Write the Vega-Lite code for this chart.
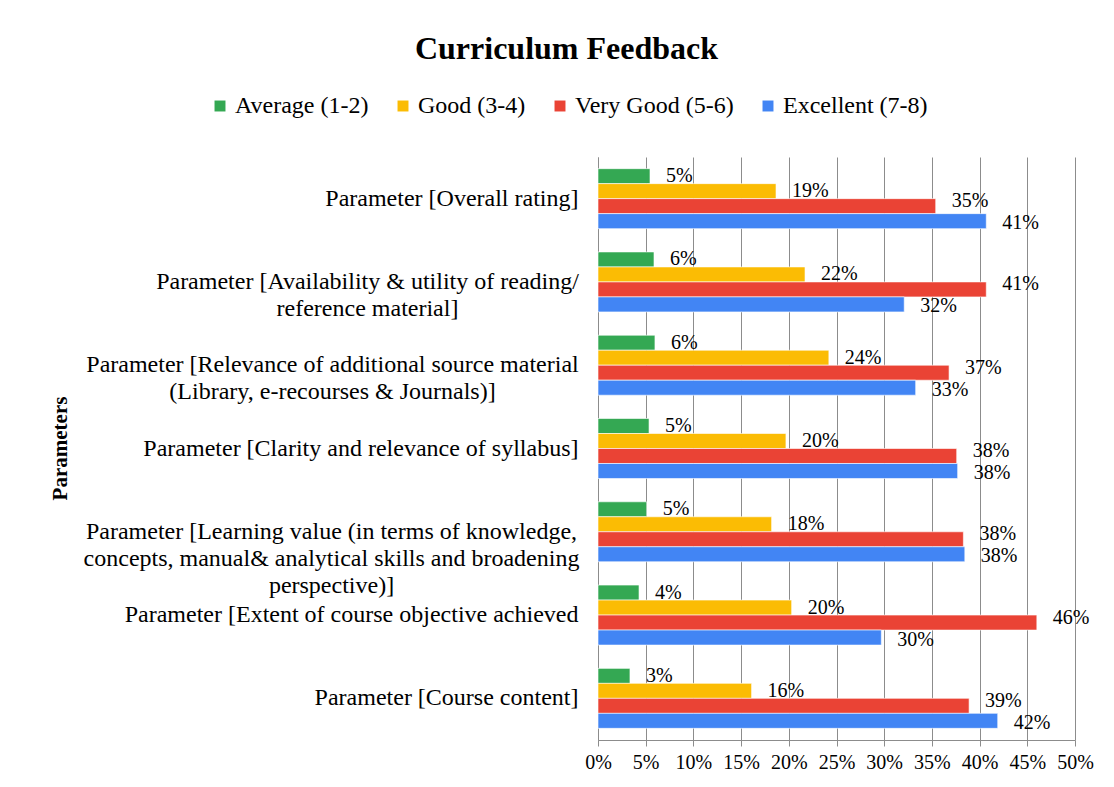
{
  "$schema": "https://vega.github.io/schema/vega-lite/v6.json",
  "autosize": {"type": "none"},
  "padding": {"left": 598, "top": 157, "right": 39, "bottom": 47},
  "width": 477,
  "height": 583,
  "background": "white",
  "config": {
    "font": "Liberation Serif",
    "view": {"stroke": null}
  },
  "title": {
    "text": "Curriculum Feedback",
    "font": "Liberation Serif",
    "fontSize": 32,
    "fontWeight": "bold",
    "color": "black",
    "anchor": "middle",
    "frame": "group",
    "dx": -270,
    "offset": 28
  },
  "data": {
    "values": [
      {"parameter": "Parameter [Overall rating]", "rating": "Average (1-2)", "share": 0.0545},
      {"parameter": "Parameter [Overall rating]", "rating": "Good (3-4)", "share": 0.1866},
      {"parameter": "Parameter [Overall rating]", "rating": "Very Good (5-6)", "share": 0.354},
      {"parameter": "Parameter [Overall rating]", "rating": "Excellent (7-8)", "share": 0.407},
      {"parameter": "Parameter [Availability & utility  of reading/|reference material]", "rating": "Average (1-2)", "share": 0.0587},
      {"parameter": "Parameter [Availability & utility  of reading/|reference material]", "rating": "Good (3-4)", "share": 0.217},
      {"parameter": "Parameter [Availability & utility  of reading/|reference material]", "rating": "Very Good (5-6)", "share": 0.407},
      {"parameter": "Parameter [Availability & utility  of reading/|reference material]", "rating": "Excellent (7-8)", "share": 0.321},
      {"parameter": "Parameter [Relevance of additional source material|(Library, e-recourses & Journals)]", "rating": "Average (1-2)", "share": 0.0597},
      {"parameter": "Parameter [Relevance of additional source material|(Library, e-recourses & Journals)]", "rating": "Good (3-4)", "share": 0.242},
      {"parameter": "Parameter [Relevance of additional source material|(Library, e-recourses & Journals)]", "rating": "Very Good (5-6)", "share": 0.368},
      {"parameter": "Parameter [Relevance of additional source material|(Library, e-recourses & Journals)]", "rating": "Excellent (7-8)", "share": 0.333},
      {"parameter": "Parameter [Clarity and relevance of syllabus]", "rating": "Average (1-2)", "share": 0.0535},
      {"parameter": "Parameter [Clarity and relevance of syllabus]", "rating": "Good (3-4)", "share": 0.197},
      {"parameter": "Parameter [Clarity and relevance of syllabus]", "rating": "Very Good (5-6)", "share": 0.376},
      {"parameter": "Parameter [Clarity and relevance of syllabus]", "rating": "Excellent (7-8)", "share": 0.377},
      {"parameter": "Parameter [Learning value (in terms of knowledge,|concepts, manual&  analytical skills and broadening|perspective)]", "rating": "Average (1-2)", "share": 0.051},
      {"parameter": "Parameter [Learning value (in terms of knowledge,|concepts, manual&  analytical skills and broadening|perspective)]", "rating": "Good (3-4)", "share": 0.182},
      {"parameter": "Parameter [Learning value (in terms of knowledge,|concepts, manual&  analytical skills and broadening|perspective)]", "rating": "Very Good (5-6)", "share": 0.383},
      {"parameter": "Parameter [Learning value (in terms of knowledge,|concepts, manual&  analytical skills and broadening|perspective)]", "rating": "Excellent (7-8)", "share": 0.3845},
      {"parameter": "Parameter [Extent of course objective achieved", "rating": "Average (1-2)", "share": 0.043},
      {"parameter": "Parameter [Extent of course objective achieved", "rating": "Good (3-4)", "share": 0.203},
      {"parameter": "Parameter [Extent of course objective achieved", "rating": "Very Good (5-6)", "share": 0.46},
      {"parameter": "Parameter [Extent of course objective achieved", "rating": "Excellent (7-8)", "share": 0.297},
      {"parameter": "Parameter [Course content]", "rating": "Average (1-2)", "share": 0.0335},
      {"parameter": "Parameter [Course content]", "rating": "Good (3-4)", "share": 0.161},
      {"parameter": "Parameter [Course content]", "rating": "Very Good (5-6)", "share": 0.389},
      {"parameter": "Parameter [Course content]", "rating": "Excellent (7-8)", "share": 0.419}
    ]
  },
  "encoding": {
    "y": {
      "field": "parameter",
      "type": "nominal",
      "sort": null,
      "scale": {"paddingInner": 0.28, "paddingOuter": 0.14},
      "axis": {
        "title": "Parameters",
        "titleFont": "Liberation Serif",
        "titleFontSize": 21,
        "titleFontWeight": "bold",
        "titleColor": "black",
        "titleX": -538,
        "titleY": 291,
        "titleAngle": 270,
        "titleAlign": "center",
        "titleBaseline": "middle",
        "labelExpr": "split(datum.label, '|')",
        "labelFont": "Liberation Serif",
        "labelFontSize": 24,
        "labelColor": "black",
        "labelLimit": 0,
        "labelAlign": {"expr": "indexof(datum.value, '|') >= 0 ? 'center' : 'right'"},
        "labelPadding": {"expr": "indexof(datum.value, 'Availability') >= 0 ? 231 : indexof(datum.value, 'Relevance of additional') >= 0 ? 266 : indexof(datum.value, 'Learning value') >= 0 ? 267 : 20"},
        "labelLineHeight": 27,
        "ticks": false,
        "domainColor": "#8c8c8c",
        "domainWidth": 1
      }
    },
    "yOffset": {
      "field": "rating",
      "type": "nominal",
      "scale": {"domain": ["Average (1-2)", "Good (3-4)", "Very Good (5-6)", "Excellent (7-8)"]}
    },
    "x": {
      "field": "share",
      "type": "quantitative",
      "scale": {"domain": [0, 0.5], "nice": false},
      "axis": {
        "title": null,
        "values": [0, 0.05, 0.1, 0.15, 0.2, 0.25, 0.3, 0.35, 0.4, 0.45, 0.5],
        "format": ".0%",
        "labelOverlap": false,
        "labelFlush": false,
        "grid": true,
        "gridColor": "#8c8c8c",
        "gridWidth": 1,
        "domainColor": "#8c8c8c",
        "tickColor": "#8c8c8c",
        "tickSize": 6,
        "labelFont": "Liberation Serif",
        "labelFontSize": 20,
        "labelColor": "black",
        "labelPadding": 6
      }
    }
  },
  "layer": [
    {
      "mark": {"type": "bar", "stroke": "white", "strokeWidth": 0.6},
      "encoding": {
        "color": {
          "field": "rating",
          "type": "nominal",
          "scale": {
            "domain": ["Average (1-2)", "Good (3-4)", "Very Good (5-6)", "Excellent (7-8)"],
            "range": ["#34A853", "#FBBC04", "#EA4335", "#4285F4"]
          },
          "legend": {
            "title": null,
            "orient": "none",
            "direction": "horizontal",
            "legendX": -390,
            "legendY": -63,
            "symbolType": "square",
            "symbolSize": 120,
            "symbolStrokeWidth": 0,
            "symbolOpacity": 1,
            "labelFont": "Liberation Serif",
            "labelFontSize": 24,
            "labelColor": "black",
            "labelOffset": 3,
            "columnPadding": 22
          }
        }
      }
    },
    {
      "transform": [{"filter": "datum.rating === 'Average (1-2)' || datum.rating === 'Good (3-4)'"}],
      "mark": {"type": "text", "align": "left", "baseline": "middle", "dx": 16, "font": "Liberation Serif", "fontSize": 20, "color": "black"},
      "encoding": {
        "text": {"field": "share", "type": "quantitative", "format": ".0%"}
      }
    },
    {
      "transform": [{"filter": "datum.rating === 'Very Good (5-6)'"}],
      "mark": {"type": "text", "align": "left", "baseline": "middle", "dx": 16, "dy": -5, "font": "Liberation Serif", "fontSize": 20, "color": "black"},
      "encoding": {
        "text": {"field": "share", "type": "quantitative", "format": ".0%"}
      }
    },
    {
      "transform": [{"filter": "datum.rating === 'Excellent (7-8)'"}],
      "mark": {"type": "text", "align": "left", "baseline": "middle", "dx": 16, "dy": 2, "font": "Liberation Serif", "fontSize": 20, "color": "black"},
      "encoding": {
        "text": {"field": "share", "type": "quantitative", "format": ".0%"}
      }
    }
  ]
}
